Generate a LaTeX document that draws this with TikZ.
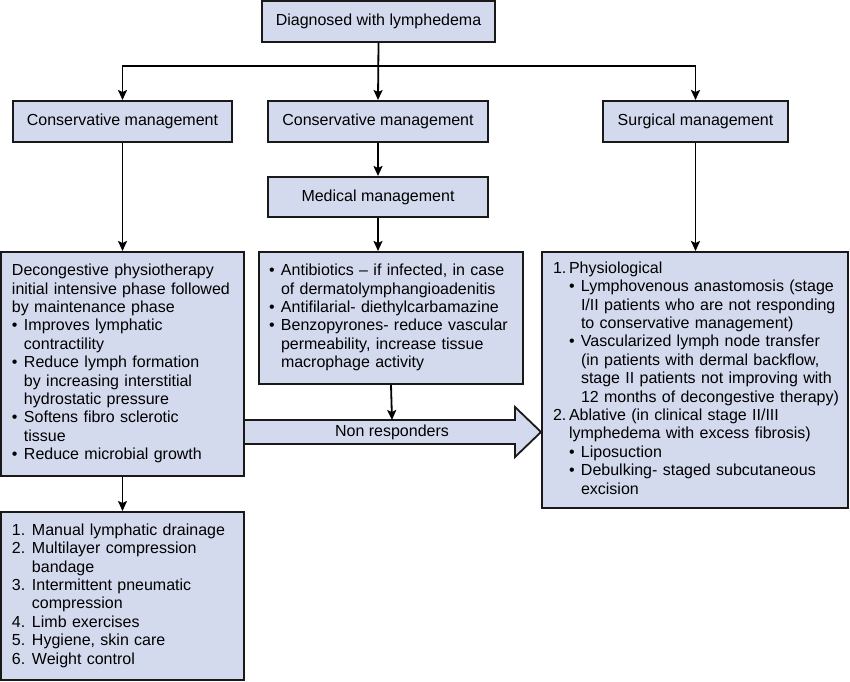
\documentclass[tikz,border=0pt]{standalone}
\usepackage{fontspec}
\setmainfont{Liberation Sans}
\usetikzlibrary{arrows.meta}
\definecolor{boxfill}{RGB}{212,218,238}
\definecolor{edge}{RGB}{25,25,25}
\newcommand{\bul}{\makebox[12pt][l]{\textbullet}}
\newcommand{\ind}{\hspace*{12pt}}
\newcommand{\numb}[1]{\makebox[16pt][l]{#1}}
\newcommand{\numc}[1]{\makebox[20pt][l]{#1}}
\begin{document}
\begin{tikzpicture}[x=1pt,y=-1pt,
  txt/.style={font=\fontsize{16}{18.4}\selectfont},
  sbox/.style={txt,draw=edge,line width=2pt,fill=boxfill,inner sep=0pt,minimum height=41pt},
  bbox/.style={txt,draw=edge,line width=2pt,fill=boxfill,inner xsep=11pt,inner ysep=0pt,align=left},
  arr/.style={draw=black,line width=1.8pt,-{Stealth[length=10pt,width=9pt,inset=2pt]}},
  conn/.style={draw=black,line width=1.8pt}]
\useasboundingbox (0,0) rectangle (850,681);

\node[sbox,minimum width=233pt,minimum height=41pt] (top) at (378.5,21.5) {Diagnosed with lymphedema};
\node[sbox,minimum width=219pt] (cm1) at (122.5,121.5) {Conservative management};
\node[sbox,minimum width=220pt] (cm2) at (378,121.5) {Conservative management};
\node[sbox,minimum width=185pt] (surg) at (695.5,121.5) {Surgical management};
\node[sbox,minimum width=220pt,minimum height=40pt] (med) at (378,197) {Medical management};

\node[bbox,text width=221pt,minimum height=224pt] (dec) at (122.5,364) {\begin{tabular}{@{}l@{}}
Decongestive physiotherapy\\
initial intensive phase followed\\
by maintenance phase\\
\bul Improves lymphatic\\
\ind contractility\\
\bul Reduce lymph formation\\
\ind by increasing interstitial\\
\ind hydrostatic pressure\\
\bul Softens fibro sclerotic\\
\ind tissue\\
\bul Reduce microbial growth
\end{tabular}};

\node[bbox,text width=244pt,inner xsep=10pt,minimum height=132pt] (anti) at (391,318) {\begin{tabular}{@{}l@{}}
\bul Antibiotics -- if infected, in case\\
\ind of dermatolymphangioadenitis\\
\bul Antifilarial- diethylcarbamazine\\
\bul Benzopyrones- reduce vascular\\
\ind permeability, increase tissue\\
\ind macrophage activity
\end{tabular}};

\node[bbox,text width=284pt,minimum height=256pt] (surgbox) at (695,380) {\begin{tabular}{@{}l@{}}
\numb{1.}Physiological\\
\hspace*{16pt}\bul Lymphovenous anastomosis (stage\\
\hspace*{16pt}\ind I/II patients who are not responding\\
\hspace*{16pt}\ind to conservative management)\\
\hspace*{16pt}\bul Vascularized lymph node transfer\\
\hspace*{16pt}\ind (in patients with dermal backflow,\\
\hspace*{16pt}\ind stage II patients not improving with\\
\hspace*{16pt}\ind 12 months of decongestive therapy)\\
\numb{2.}Ablative (in clinical stage II/III\\
\hspace*{16pt}lymphedema with excess fibrosis)\\
\hspace*{16pt}\bul Liposuction\\
\hspace*{16pt}\bul Debulking- staged subcutaneous\\
\hspace*{16pt}\ind excision
\end{tabular}};

\node[bbox,text width=221pt,minimum height=168pt] (list) at (122.5,596) {\begin{tabular}{@{}l@{}}
\numc{1.}Manual lymphatic drainage\\
\numc{2.}Multilayer compression\\
\hspace*{20pt}bandage\\
\numc{3.}Intermittent pneumatic\\
\hspace*{20pt}compression\\
\numc{4.}Limb exercises\\
\numc{5.}Hygiene, skin care\\
\numc{6.}Weight control
\end{tabular}};

% connectors
\coordinate (j) at (378,66);
\draw[arr] (top.south) -- (cm2.north);
\draw[arr] (j) -| (cm1.north);
\draw[arr] (j) -| (surg.north);
\draw[arr] (cm1.south) -- (dec.north);
\draw[arr] (cm2.south) -- (med.north);
\draw[arr] (med.south) -- (med.south |- anti.north);
\draw[arr] (surg.south) -- (surg.south |- surgbox.north);
\draw[arr] (dec.south) -- (list.north);

% non responders block arrow
\coordinate (s1) at (dec.east |- 0,420);
\coordinate (s2) at (515,420);
\coordinate (h1) at (515,407);
\coordinate (tip) at (surgbox.west |- 0,432);
\coordinate (h2) at (515,457);
\coordinate (s3) at (515,444);
\coordinate (s4) at (dec.east |- 0,444);
\fill[boxfill] (s1) -- (s2) -- (h1) -- (tip) -- (h2) -- (s3) -- (s4) -- cycle;
\draw[edge,line width=1.8pt,line join=miter] (s1) -- (s2) -- (h1) -- (tip) -- (h2) -- (s3) -- (s4);
\node[txt,inner sep=0pt] (nr) at (392,432) {Non responders};
\coordinate (nrtop) at (392,420);
\draw[arr] (anti.south) -- (nrtop);
\end{tikzpicture}
\end{document}
